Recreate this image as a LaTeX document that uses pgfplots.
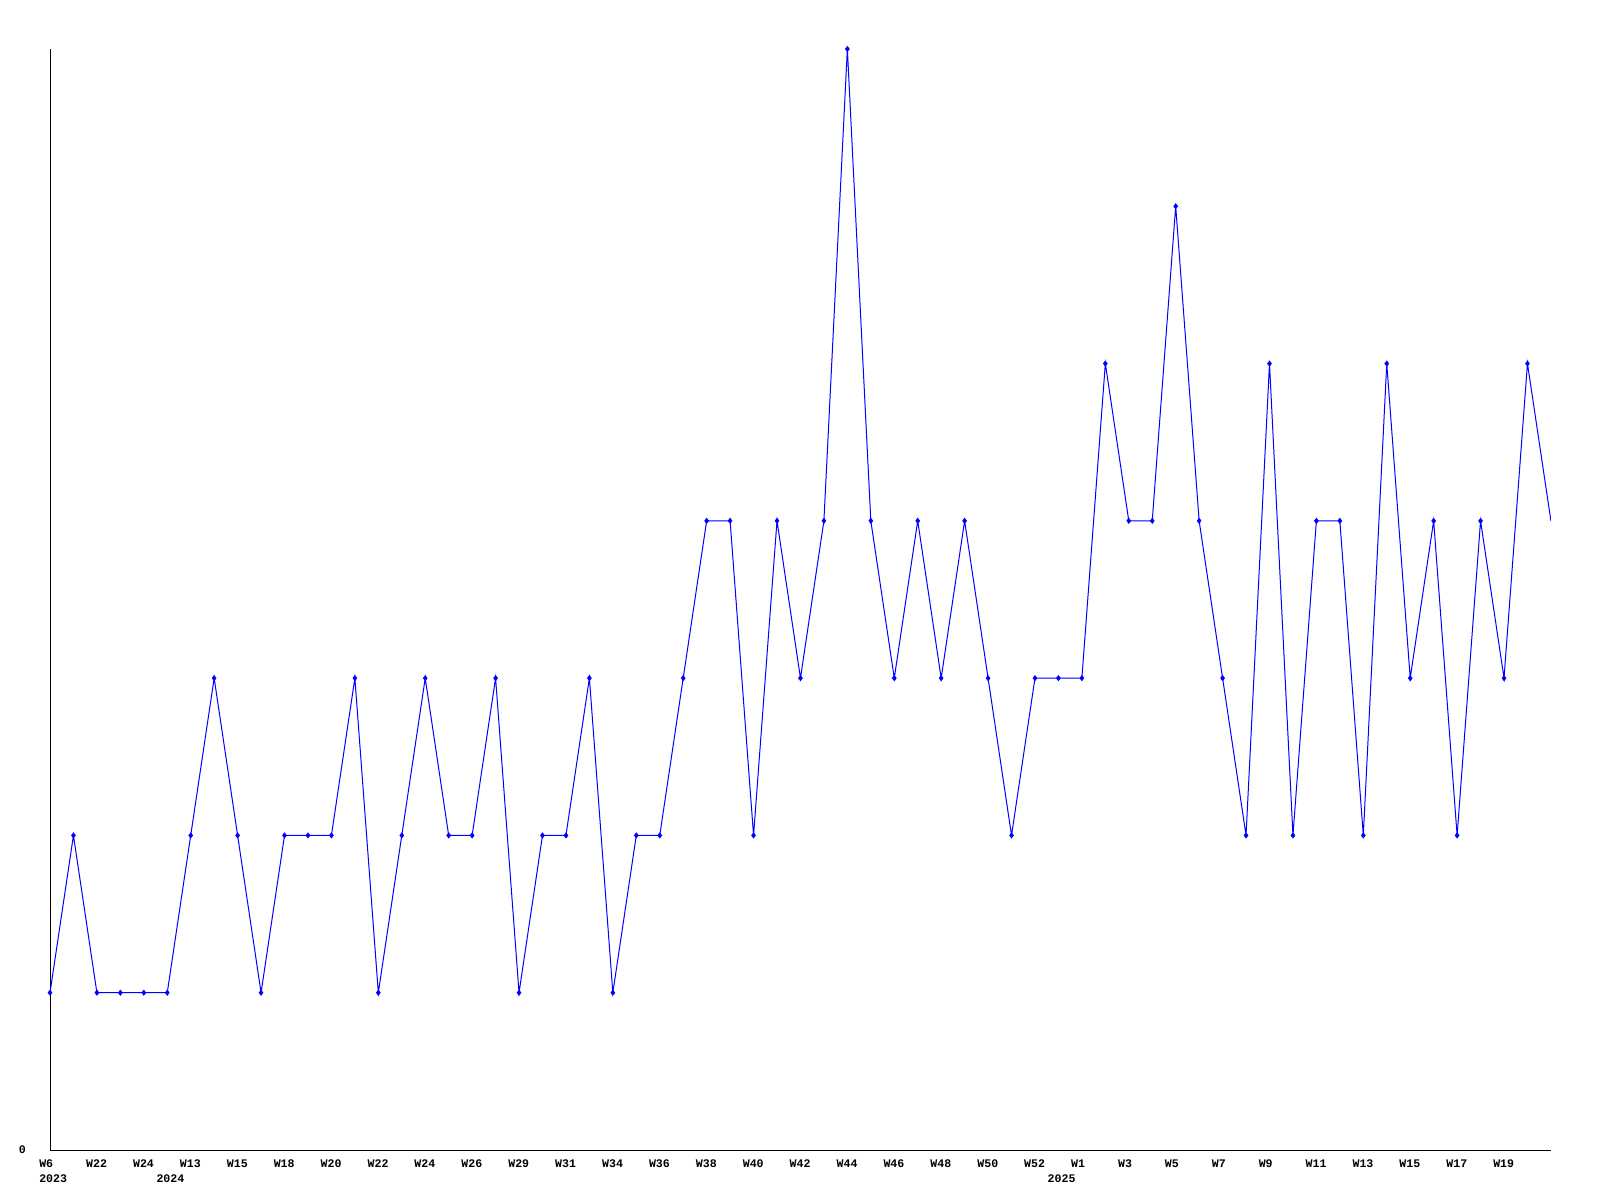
\documentclass[border=0pt]{standalone}
\usepackage{pgfplots}
\pgfplotsset{compat=1.18}
\usepackage{pgfplotstable}
\usepackage{fontspec}
\newfontfamily\monofont{Liberation Mono}
\pgfplotstableread{
x y
0 1
1 2
2 1
3 1
4 1
5 1
6 2
7 3
8 2
9 1
10 2
11 2
12 2
13 3
14 1
15 2
16 3
17 2
18 2
19 3
20 1
21 2
22 2
23 3
24 1
25 2
26 2
27 3
28 4
29 4
30 2
31 4
32 3
33 4
34 7
35 4
36 3
37 4
38 3
39 4
40 3
41 2
42 3
43 3
44 3
45 5
46 4
47 4
48 6
49 4
50 3
51 2
52 5
53 2
54 4
55 4
56 2
57 5
58 3
59 4
60 2
61 4
62 3
63 5
64 4
}\datatable
\begin{document}
\begin{tikzpicture}
\path[use as bounding box] (0,0) rectangle (1200pt,900pt);
\begin{axis}[
  at={(37.5pt,37.5pt)}, anchor=south west,
  scale only axis,
  width=1125.75pt, height=825.75pt,
  xmin=0, xmax=64, ymin=0, ymax=7,
  axis x line=bottom, axis y line=left,
  axis line style={black, line width=0.6pt, -},
  major tick length=0pt,
  xtick={0,2,...,62},
  xticklabels={W6,W22,W24,W13,W15,W18,W20,W22,W24,W26,W29,W31,W34,W36,W38,W40,W42,W44,W46,W48,W50,W52,W1,W3,W5,W7,W9,W11,W13,W15,W17,W19},
  extra x ticks={0,5,43},
  extra x tick labels={2023,2024,2025},
  extra x tick style={xticklabel style={yshift=-11.25pt}},
  xticklabel style={anchor=north west, inner sep=0pt, xshift=-8.25pt, yshift=-6.9pt},
  ytick={0}, yticklabels={0},
  yticklabel style={anchor=east, inner sep=0pt, xshift=-18pt},
  tick label style={font=\monofont\bfseries\fontsize{8.7}{10}\selectfont},
  clip=true,
]
\addplot[color={rgb,255:red,0;green,0;blue,255}, line width=0.75pt, no marks] table[x=x,y=y] {\datatable};
\addplot[color={rgb,255:red,0;green,0;blue,255}, only marks, mark=diamond*, mark size=2pt, skip coords between index={64}{65}] table[x=x,y=y] {\datatable};
\end{axis}
\end{tikzpicture}
\end{document}
